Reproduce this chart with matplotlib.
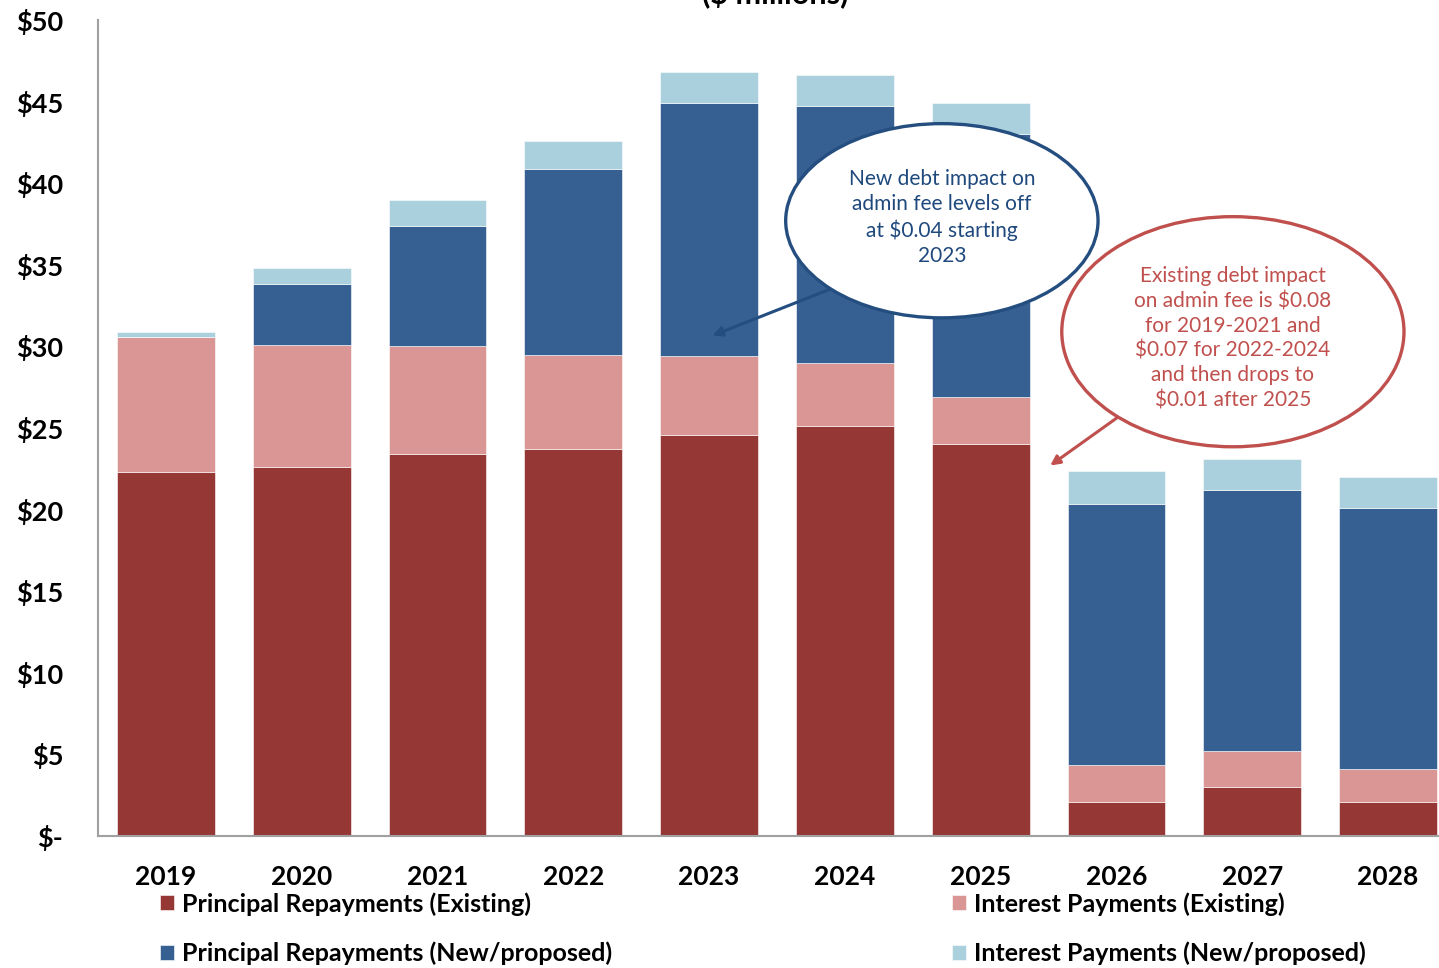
import matplotlib
matplotlib.use("Agg")
import matplotlib.pyplot as plt
from matplotlib.patches import Ellipse
import numpy as np

plt.rcParams['font.family'] = ['Lato', 'DejaVu Sans']

years = ['2019', '2020', '2021', '2022', '2023', '2024', '2025', '2026', '2027', '2028']
principal_existing = [22.3, 22.6, 23.4, 23.7, 24.6, 25.1, 24.0, 2.1, 3.0, 2.1]
interest_existing = [8.3, 7.5, 6.6, 5.8, 4.8, 3.9, 2.9, 2.25, 2.2, 2.0]
principal_new = [0.0, 3.7, 7.4, 11.4, 15.5, 15.7, 16.1, 16.0, 16.0, 16.0]
interest_new = [0.3, 1.0, 1.6, 1.7, 1.9, 1.9, 1.9, 2.0, 1.9, 1.9]

series = [
    ("Principal Repayments (Existing)", principal_existing, '#953735'),
    ("Interest Payments (Existing)", interest_existing, '#D99694'),
    ("Principal Repayments (New/proposed)", principal_new, '#366092'),
    ("Interest Payments (New/proposed)", interest_new, '#AACFDD'),
]

yticks = [0, 5, 10, 15, 20, 25, 30, 35, 40, 45, 50]
ytick_labels = ['$-', '$5', '$10', '$15', '$20', '$25', '$30', '$35', '$40', '$45', '$50']

fig = plt.figure(figsize=(14.39, 9.68), dpi=100)
ax = fig.add_axes([98 / 1439, 1 - 836 / 968, 1358 / 1439, 816 / 968])

x = np.arange(len(years))
bottom = np.zeros(len(years))
handles = {}
for label, vals, color in series:
    b = ax.bar(x, vals, 0.72, bottom=bottom, color=color, edgecolor='white',
               linewidth=0.4, label=label, zorder=2)
    handles[label] = b
    bottom += np.array(vals)

ax.set_xlim(-0.5, len(years) - 0.5)
ax.set_ylim(0, 50)
ax.set_yticks(yticks)
ax.set_yticklabels(ytick_labels, fontsize=19.5, fontweight='bold')
ax.set_xticks(x)
ax.set_xticklabels(years, fontsize=19, fontweight='bold')
ax.tick_params(axis='y', length=0, pad=25)
ax.tick_params(axis='x', length=0, pad=21)
for s in ['top', 'right']:
    ax.spines[s].set_visible(False)
for s in ['left', 'bottom']:
    ax.spines[s].set_color('#A0A0A0')
    ax.spines[s].set_linewidth(1.5)

# title, mostly cut off at the top of the picture
fig.text(775 / 1439, 1 - 8 / 968, "($ millions)", ha='center', va='bottom',
         fontsize=22, fontweight='bold')

# blue callout
ax.annotate("", xy=(4.006, 30.6), xytext=(4.95, 33.7),
            arrowprops=dict(arrowstyle='-|>', color='#254E80', lw=2.2,
                            mutation_scale=14), zorder=5)
ax.add_patch(Ellipse((5.714, 37.7), 2.30, 11.9, facecolor='white',
                     edgecolor='#254E80', linewidth=2.4, zorder=6))
ax.text(5.714, 37.9, "New debt impact on\nadmin fee levels off\nat $0.04 starting\n2023",
        ha='center', va='center', fontsize=15, color='#1F497D',
        linespacing=1.3, zorder=7)

# red callout
ax.annotate("", xy=(6.495, 22.6), xytext=(7.05, 25.9),
            arrowprops=dict(arrowstyle='-|>', color='#C0504D', lw=2.2,
                            mutation_scale=14), zorder=5)
ax.add_patch(Ellipse((7.857, 30.9), 2.52, 14.1, facecolor='white',
                     edgecolor='#C0504D', linewidth=2.4, zorder=6))
ax.text(7.857, 30.5,
        "Existing debt impact\non admin fee is $0.08\nfor 2019-2021 and\n$0.07 for 2022-2024\nand then drops to\n$0.01 after 2025",
        ha='center', va='center', fontsize=15, color='#C0504D',
        linespacing=1.3, zorder=7)

leg_kw = dict(loc='upper left', frameon=False, ncol=1, handlelength=0.55,
              handleheight=0.55, handletextpad=0.35, labelspacing=1.05, borderaxespad=0,
              prop={'size': 18, 'weight': 'bold'})
col1 = ["Principal Repayments (Existing)", "Principal Repayments (New/proposed)"]
col2 = ["Interest Payments (Existing)", "Interest Payments (New/proposed)"]
fig.legend([handles[l] for l in col1], col1, bbox_to_anchor=(150 / 1439, 1 - 882 / 968), **leg_kw)
fig.legend([handles[l] for l in col2], col2, bbox_to_anchor=(942 / 1439, 1 - 882 / 968), **leg_kw)

fig.savefig("out.png", dpi=100)
